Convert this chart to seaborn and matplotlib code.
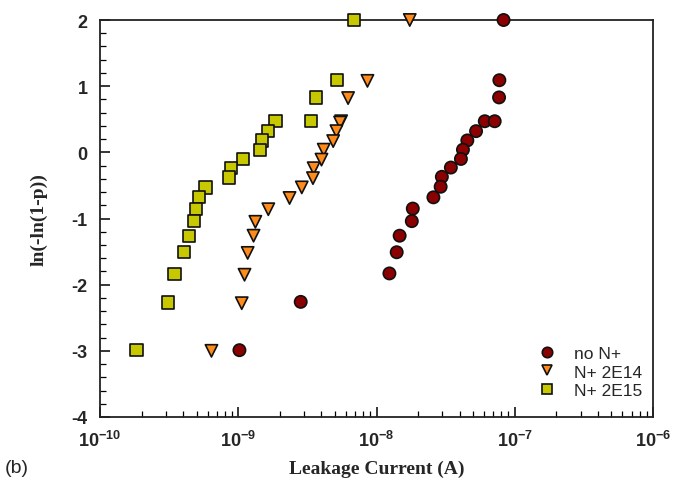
import numpy as np
import pandas as pd
import matplotlib
matplotlib.use("Agg")
import matplotlib.pyplot as plt
import seaborn as sns
from matplotlib.ticker import LogLocator, MultipleLocator, FixedLocator, NullFormatter

# ---- data ----
series_names = ["no N+", "N+ 2E14", "N+ 2E15"]

no_n_current = [8.3e-8, 7.74e-8, 7.7e-8, 6.07e-8, 7.16e-8, 5.25e-8, 4.54e-8, 4.22e-8, 4.08e-8,
                3.45e-8, 2.97e-8, 2.91e-8, 2.58e-8, 1.83e-8, 1.80e-8, 1.47e-8, 1.40e-8, 1.24e-8,
                2.83e-9, 1.02e-9]
no_n_weibull = [2.0, 1.09, 0.83, 0.47, 0.47, 0.32, 0.18, 0.04, -0.10,
                -0.23, -0.37, -0.52, -0.68, -0.85, -1.04, -1.26, -1.51, -1.83,
                -2.26, -2.99]

n2e14_current = [1.74e-8, 8.6e-9, 6.23e-9, 5.55e-9, 5.45e-9, 5.13e-9, 4.86e-9, 4.15e-9, 4.0e-9,
                 3.51e-9, 3.47e-9, 2.88e-9, 2.35e-9, 1.65e-9, 1.33e-9, 1.29e-9, 1.17e-9, 1.11e-9,
                 1.06e-9, 6.4e-10]
n2e14_weibull = [2.0, 1.08, 0.82, 0.47, 0.45, 0.32, 0.17, 0.04, -0.11,
                 -0.24, -0.39, -0.53, -0.69, -0.86, -1.05, -1.26, -1.52, -1.85,
                 -2.28, -3.0]

n2e15_current = [6.85e-9, 5.19e-9, 3.67e-9, 3.36e-9, 1.86e-9, 1.65e-9, 1.49e-9, 1.43e-9, 1.08e-9,
                 8.85e-10, 8.55e-10, 5.8e-10, 5.22e-10, 4.96e-10, 4.8e-10, 4.42e-10, 4.06e-10,
                 3.46e-10, 3.09e-10, 1.84e-10]
n2e15_weibull = [2.0, 1.09, 0.83, 0.47, 0.47, 0.32, 0.18, 0.04, -0.10,
                 -0.24, -0.38, -0.53, -0.68, -0.855, -1.04, -1.26, -1.51,
                 -1.84, -2.27, -2.99]

x_tick_values = [1e-10, 1e-9, 1e-8, 1e-7, 1e-6]
x_tick_labels = [r"$\mathbf{10^{-10}}$", r"$\mathbf{10^{-9}}$", r"$\mathbf{10^{-8}}$",
                 r"$\mathbf{10^{-7}}$", r"$\mathbf{10^{-6}}$"]
y_tick_values = [-4, -3, -2, -1, 0, 1, 2]

colors = {"no N+": "#8b0000", "N+ 2E14": "#ff8c1a", "N+ 2E15": "#c8c800"}
markers = {"no N+": "o", "N+ 2E14": "v", "N+ 2E15": "s"}

df = pd.concat([
    pd.DataFrame({"current": no_n_current, "weibull": no_n_weibull, "sample": series_names[0]}),
    pd.DataFrame({"current": n2e14_current, "weibull": n2e14_weibull, "sample": series_names[1]}),
    pd.DataFrame({"current": n2e15_current, "weibull": n2e15_weibull, "sample": series_names[2]}),
], ignore_index=True)

# ---- plotting ----
sns.set_theme(style="white")
plt.rcParams["font.family"] = ["Liberation Sans", "DejaVu Sans"]
plt.rcParams["mathtext.fontset"] = "custom"
plt.rcParams["mathtext.rm"] = "Liberation Sans"
plt.rcParams["mathtext.bf"] = "Liberation Sans:bold"

fig = plt.figure(figsize=(6.73, 4.89), dpi=100)
ax = fig.add_axes([100 / 673, 1 - 418 / 489, 553 / 673, 397 / 489])

sns.scatterplot(data=df, x="current", y="weibull", hue="sample", style="sample",
                hue_order=series_names, style_order=series_names,
                palette=colors, markers=markers, s=78, edgecolor="#111111",
                linewidth=1.2, ax=ax, legend="full", zorder=5)
for c in ax.collections:
    c.set_clip_on(False)

ax.set_xscale("log")
ax.set_xlim(1e-10, 1e-6)
ax.set_ylim(-4, 2)

ax.xaxis.set_major_locator(FixedLocator(x_tick_values))
ax.set_xticks(x_tick_values)
ax.set_xticklabels(x_tick_labels)
ax.xaxis.set_minor_locator(LogLocator(base=10, subs=np.arange(2, 10), numticks=20))
ax.xaxis.set_minor_formatter(NullFormatter())

ax.set_yticks(y_tick_values)
ax.set_yticklabels([str(v) for v in y_tick_values], fontweight="bold")
ax.yaxis.set_minor_locator(MultipleLocator(0.2))

ax.tick_params(axis="both", which="major", direction="in", length=7, width=1.1,
               color="black", labelsize=13, pad=9, top=False, right=False,
               bottom=True, left=True)
ax.tick_params(axis="both", which="minor", direction="in", length=4, width=0.9,
               color="black", top=False, right=False, bottom=True, left=True)
for lab in ax.get_yticklabels():
    lab.set_fontweight("bold")

for sp in ax.spines.values():
    sp.set_visible(True)
    sp.set_color("#222222")
    sp.set_linewidth(1.3)

ax.set_xlabel("Leakage Current (A)", family=["Liberation Serif", "DejaVu Serif"],
              fontweight="bold", fontsize=14, labelpad=7)
ax.set_ylabel("ln(-ln(1-p))", family=["Liberation Serif", "DejaVu Serif"],
              fontweight="bold", fontsize=14, labelpad=17)

handles, labels = ax.get_legend_handles_labels()
leg = ax.legend(handles, labels, loc="upper left", bbox_to_anchor=(0.765, 0.197),
                frameon=False, fontsize=12.5, handletextpad=0.55, labelspacing=0.2,
                markerscale=0.85, borderaxespad=0)

fig.text(5 / 673, 1 - 469 / 489, "(b)", fontsize=14, va="center", ha="left")

fig.savefig("out.png", dpi=100, facecolor="white")
